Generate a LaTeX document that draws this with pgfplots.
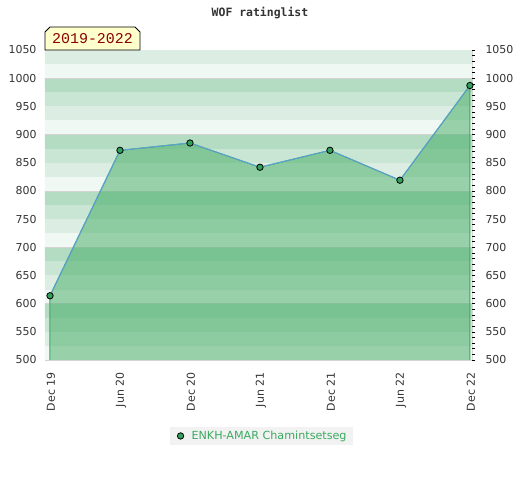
\documentclass[border=0pt]{standalone}
\usepackage{pgfplots}
\pgfplotsset{compat=1.18}
\usepackage{fontspec}
\setmainfont{DejaVu Sans}
\newfontfamily\monob{DejaVu Sans Mono}
\newfontfamily\libmono{Liberation Mono}
\definecolor{bandA}{HTML}{B3DCC3}
\definecolor{bandB}{HTML}{C8E6D3}
\definecolor{bandC}{HTML}{DCEEE3}
\definecolor{bandD}{HTML}{F0F8F3}
\definecolor{fillgreen}{RGB}{64,170,97}
\definecolor{markgreen}{RGB}{50,160,90}
\definecolor{linecol}{RGB}{91,159,214}
\definecolor{gridgray}{HTML}{D4D4D4}
\definecolor{labgray}{HTML}{333333}
\definecolor{legendgray}{HTML}{F2F2F2}
\definecolor{textgreen}{RGB}{58,170,96}
\definecolor{yellowbox}{HTML}{FFFFCC}
\definecolor{darkred}{HTML}{8B0000}
\begin{document}
\begin{tikzpicture}
\path (0,0) rectangle (520bp,480bp);
\begin{axis}[
  at={(45bp,120bp)}, anchor=south west,
  scale only axis, width=427bp, height=310bp,
  xmin=-0.0714, xmax=6.03, ymin=500, ymax=1050,
  xtick={0,1,2,3,4,5,6},
  xticklabels={Dec 19,Jun 20,Dec 20,Jun 21,Dec 21,Jun 22,Dec 22},
  ytick={500,550,...,1050},
  major tick length=0pt,
  tick style={draw=none},
  axis line style={draw=gridgray},
  /pgf/number format/assume math mode=true,
  /pgf/number format/1000 sep={},
  ticklabel style={font=\fontsize{11}{13}\selectfont, text=labgray},
  yticklabel style={xshift=-5bp},
  xticklabel style={rotate=90, anchor=east, xshift=-9bp, yshift=-1bp},
  legend style={at={(0.506,-0.245)}, anchor=center, fill=legendgray, draw=none,
    font=\fontsize{11.2}{13}\selectfont, text=textgreen, inner xsep=4bp, inner ysep=2bp},
  legend image code/.code={\path[draw=none] (0bp,0bp) -- (16bp,0bp);\path[fill=markgreen,draw=black,line width=0.8bp] (7bp,0bp) circle (3.2bp);},
]
% background bands
\fill[bandC] (axis cs:-1,1025) rectangle (axis cs:7,1050);
\fill[bandD] (axis cs:-1,1000) rectangle (axis cs:7,1025);
\fill[bandA] (axis cs:-1,975) rectangle (axis cs:7,1000);
\fill[bandB] (axis cs:-1,950) rectangle (axis cs:7,975);
\fill[bandC] (axis cs:-1,925) rectangle (axis cs:7,950);
\fill[bandD] (axis cs:-1,900) rectangle (axis cs:7,925);
\fill[bandA] (axis cs:-1,875) rectangle (axis cs:7,900);
\fill[bandB] (axis cs:-1,850) rectangle (axis cs:7,875);
\fill[bandC] (axis cs:-1,825) rectangle (axis cs:7,850);
\fill[bandD] (axis cs:-1,800) rectangle (axis cs:7,825);
\fill[bandA] (axis cs:-1,775) rectangle (axis cs:7,800);
\fill[bandB] (axis cs:-1,750) rectangle (axis cs:7,775);
\fill[bandC] (axis cs:-1,725) rectangle (axis cs:7,750);
\fill[bandD] (axis cs:-1,700) rectangle (axis cs:7,725);
\fill[bandA] (axis cs:-1,675) rectangle (axis cs:7,700);
\fill[bandB] (axis cs:-1,650) rectangle (axis cs:7,675);
\fill[bandC] (axis cs:-1,625) rectangle (axis cs:7,650);
\fill[bandD] (axis cs:-1,600) rectangle (axis cs:7,625);
\fill[bandA] (axis cs:-1,575) rectangle (axis cs:7,600);
\fill[bandB] (axis cs:-1,550) rectangle (axis cs:7,575);
\fill[bandC] (axis cs:-1,525) rectangle (axis cs:7,550);
\fill[bandD] (axis cs:-1,500) rectangle (axis cs:7,525);
\draw[gridgray] (axis cs:-1,1000) -- (axis cs:7,1000);
\draw[gridgray] (axis cs:-1,900) -- (axis cs:7,900);
\draw[gridgray] (axis cs:-1,800) -- (axis cs:7,800);
\draw[gridgray] (axis cs:-1,700) -- (axis cs:7,700);
\draw[gridgray] (axis cs:-1,600) -- (axis cs:7,600);
% area
\addplot[forget plot, fill=fillgreen, fill opacity=0.5, draw=fillgreen, draw opacity=1, line width=1bp]
  coordinates {(0,500) (0,614) (1,872) (2,885) (3,842) (4,872) (5,819) (6,987) (6,500)};
% line + marks
\addplot[forget plot, color=linecol, line width=1bp, mark=*, mark size=3.2bp,
  mark options={fill=markgreen, draw=black, line width=0.8bp}]
  coordinates {(0,614) (1,872) (2,885) (3,842) (4,872) (5,819) (6,987)};
\addlegendimage{only marks}
\addlegendentry{ENKH-AMAR Chamintsetseg}
\end{axis}
\begin{axis}[
  at={(45bp,120bp)}, anchor=south west,
  scale only axis, width=427bp, height=310bp,
  xmin=-0.0714, xmax=6.03, ymin=500, ymax=1050,
  axis x line=none,
  axis y line*=right,
  axis line style={draw=none},
  ytick={500,550,...,1050},
  minor y tick num=4,
  tick align=outside,
  major tick length=3bp, minor tick length=3bp,
  every tick/.style={black, line width=0.6bp},
  /pgf/number format/assume math mode=true,
  /pgf/number format/1000 sep={},
  ticklabel style={font=\fontsize{11}{13}\selectfont, text=labgray},
  yticklabel style={xshift=7bp},
]
\addplot[draw=none, forget plot] coordinates {(0,500)};
\end{axis}
\node[font=\monob\bfseries\fontsize{11.5}{13}\selectfont, text=labgray] at (260bp,467bp) {WOF ratinglist};
\draw[fill=yellowbox, line width=0.8bp] (45bp,430bp) -- (45bp,448bp) -- (50bp,453bp) -- (135bp,453bp) -- (140bp,448bp) -- (140bp,430bp) -- cycle;
\node[font=\libmono\fontsize{15}{16}\selectfont, text=darkred] at (92.5bp,441bp) {2019-2022};
\end{tikzpicture}
\end{document}
